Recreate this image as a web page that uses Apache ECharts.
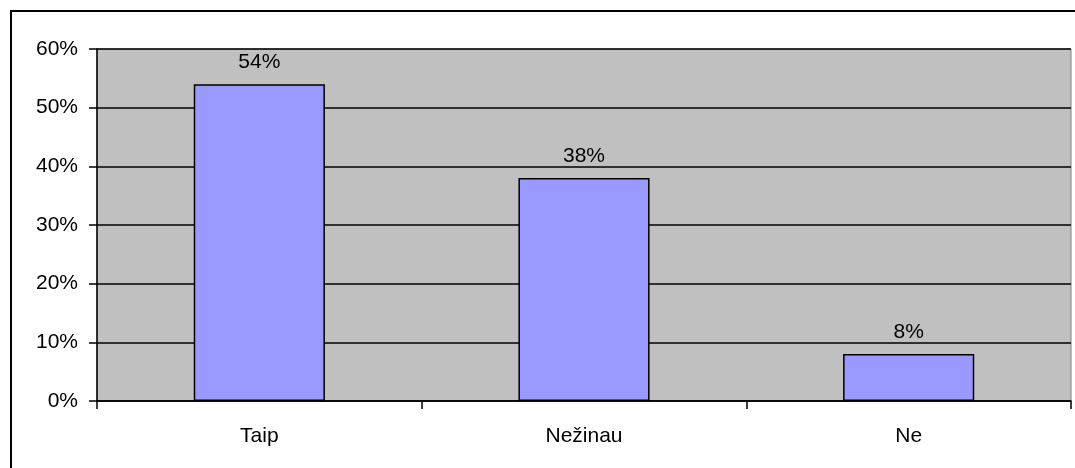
<!DOCTYPE html>
<html>
<head>
<meta charset="utf-8">
<script src="https://cdn.jsdelivr.net/npm/echarts@6/dist/echarts.min.js"></script>
<style>
html,body{margin:0;padding:0;background:#fff;}
#chart{width:1075px;height:468px;}
</style>
</head>
<body>
<div id="chart"></div>
<script>
const categories = ['Taip', 'Nežinau', 'Ne'];
const values = [54, 38, 8];
const yTicks = [0, 10, 20, 30, 40, 50, 60];

const chart = echarts.init(document.getElementById('chart'), null, {renderer: 'canvas'});
const font = 'Liberation Sans, Arial, sans-serif';
chart.setOption({
  animation: false,
  backgroundColor: '#ffffff',
  graphic: [{
    type: 'rect',
    shape: {x: 11, y: 11, width: 1200, height: 600},
    style: {fill: 'none', stroke: '#000', lineWidth: 2},
    z: 100
  }],
  grid: {
    left: 97, right: 4, top: 49, bottom: 67,
    show: true, backgroundColor: '#C0C0C0', borderColor: '#808080', borderWidth: 1
  },
  xAxis: {
    type: 'category',
    data: categories,
    boundaryGap: true,
    axisLine: {show: true, lineStyle: {color: '#000', width: 1.5}},
    axisTick: {show: true, length: 8, alignWithLabel: false, lineStyle: {color: '#000', width: 1.5}},
    axisLabel: {color: '#000', fontFamily: font, fontSize: 21, margin: 25}
  },
  yAxis: {
    type: 'value',
    min: yTicks[0], max: yTicks[yTicks.length - 1], interval: 10,
    axisLine: {show: true, lineStyle: {color: '#000', width: 1.5}},
    axisTick: {show: true, length: 8, lineStyle: {color: '#000', width: 1.5}},
    axisLabel: {color: '#000', fontFamily: font, fontSize: 21, margin: 19, formatter: '{value}%'},
    splitLine: {show: true, lineStyle: {color: '#000', width: 1.5}}
  },
  series: [{
    type: 'bar',
    data: values,
    barWidth: '40.4%',
    itemStyle: {color: '#9999FF', borderColor: '#000', borderWidth: 1.5},
    label: {show: true, position: 'top', distance: 11, color: '#000', fontFamily: font, fontSize: 21, formatter: '{c}%'}
  }]
});
</script>
</body>
</html>
